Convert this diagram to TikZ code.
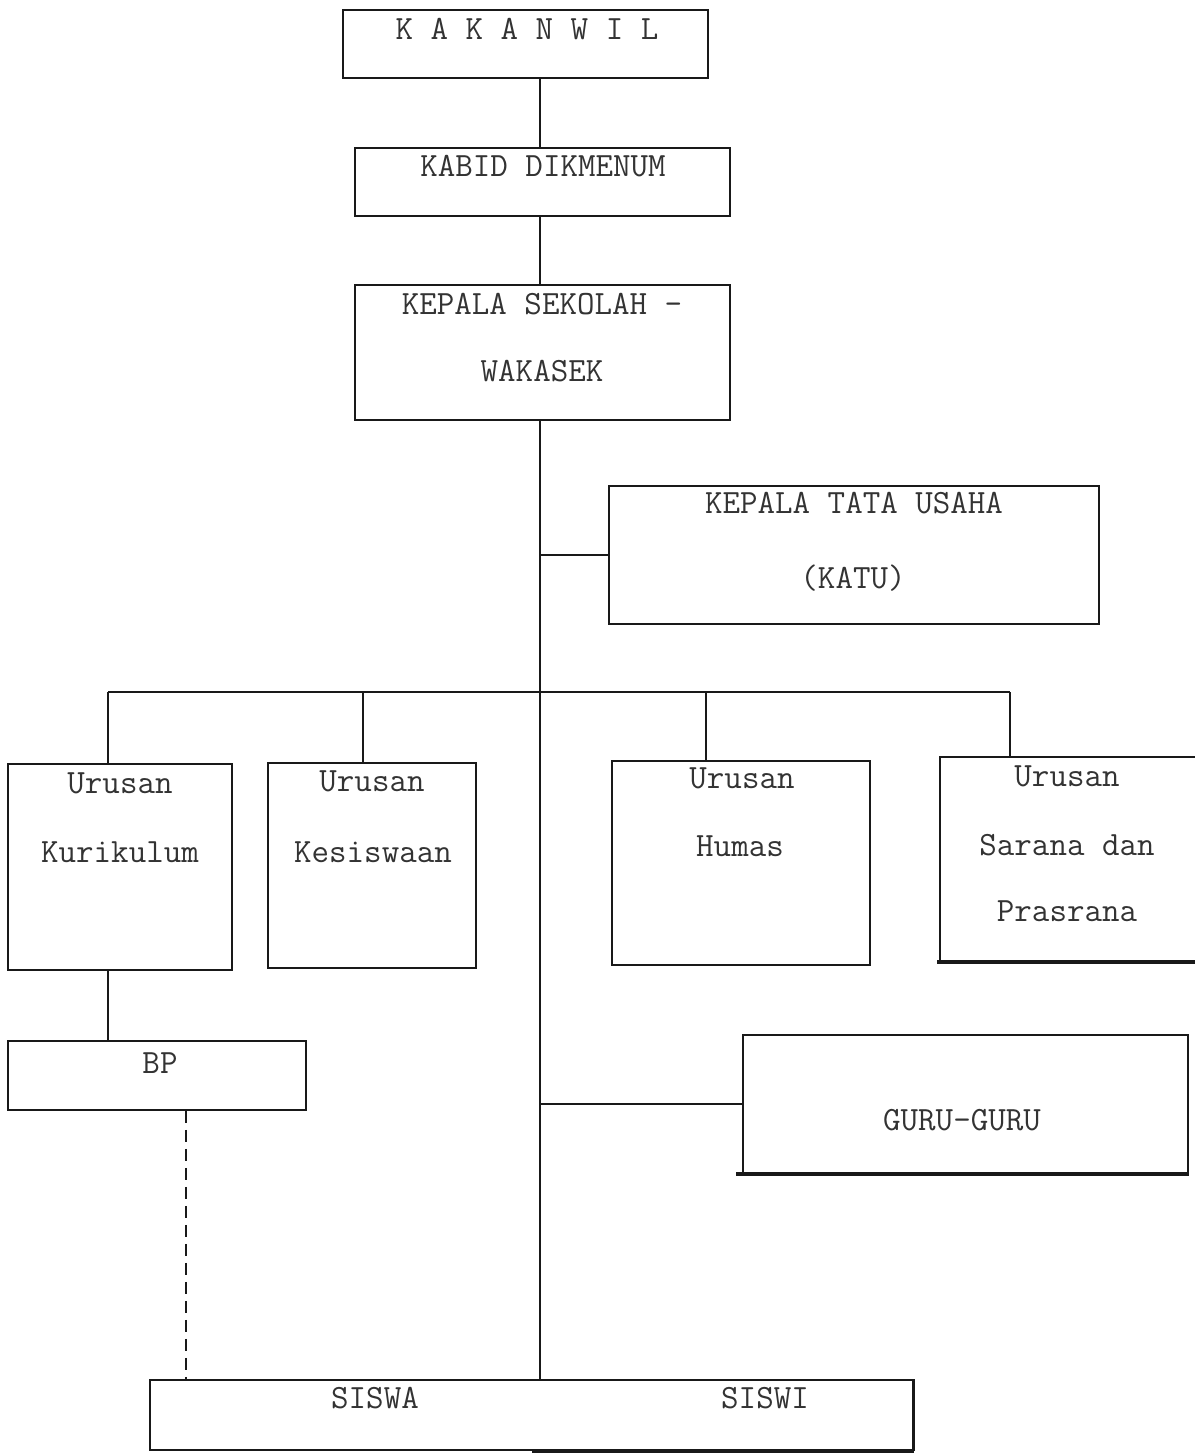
\documentclass[tikz,border=0pt]{standalone}
\usepackage{fontspec}
\begin{document}
\begin{tikzpicture}[x=1pt,y=-1pt,
  box/.style={draw=black!90,rectangle,inner sep=0pt,line width=1.5pt},
  lbl/.style={font=\ttfamily\fontsize{34}{40}\selectfont,text=black!80,inner sep=0pt},
  link/.style={draw=black!90,line width=1.5pt},
  dashlink/.style={draw=black!90,line width=1.5pt,dash pattern=on 12pt off 7pt},
  heavyedge/.style={draw=black!90,line width=4pt}]
\useasboundingbox (0,0) rectangle (1194,1453);

% boxes
\node[box,minimum width=365pt,minimum height=68pt] (kakanwil) at (525.5,44) {};
\node[box,minimum width=375pt,minimum height=68pt] (kabid) at (542.5,182) {};
\node[box,minimum width=375pt,minimum height=135pt] (kepsek) at (542.5,352.5) {};
\node[box,minimum width=490pt,minimum height=138pt] (katu) at (854,555) {};
\node[box,minimum width=224pt,minimum height=206pt] (kurikulum) at (120,867) {};
\node[box,minimum width=208pt,minimum height=205pt] (kesiswaan) at (372,865.5) {};
\node[box,minimum width=258pt,minimum height=204pt] (humas) at (741,863) {};
\node[box,minimum width=256pt,minimum height=204pt] (sarana) at (1068,859) {};
\node[box,minimum width=298pt,minimum height=69pt] (bp) at (157,1075.5) {};
\node[box,minimum width=445pt,minimum height=138pt] (guru) at (965.5,1104) {};
\node[box,minimum width=763pt,minimum height=70pt] (siswa) at (531.5,1415) {};

% texts
\node[lbl] (kakanwil-t) at (527,29) {K A K A N W I L};
\node[lbl] (kabid-t) at (543,166) {KABID DIKMENUM};
\node[lbl] (kepsek-t1) at (542,304) {KEPALA SEKOLAH -};
\node[lbl] (kepsek-t2) at (542,371) {WAKASEK};
\node[lbl] (katu-t1) at (854,503) {KEPALA TATA USAHA};
\node[lbl] (katu-t2) at (853,578) {(KATU)};
\node[lbl] (kurikulum-t1) at (120,783) {Urusan};
\node[lbl] (kurikulum-t2) at (120,852) {Kurikulum};
\node[lbl] (kesiswaan-t1) at (372,781) {Urusan};
\node[lbl] (kesiswaan-t2) at (373,852) {Kesiswaan};
\node[lbl] (humas-t1) at (742,778) {Urusan};
\node[lbl] (humas-t2) at (740,846) {Humas};
\node[lbl] (sarana-t1) at (1067,776) {Urusan};
\node[lbl] (sarana-t2) at (1067,845) {Sarana dan};
\node[lbl] (sarana-t3) at (1067,911) {Prasrana};
\node[lbl] (bp-t) at (160,1063) {BP};
\node[lbl] (guru-t) at (962,1120) {GURU-GURU};
\node[lbl] (siswa-t1) at (375,1398) {SISWA};
\node[lbl] (siswa-t2) at (765,1398) {SISWI};

% heavy lower edges
\draw[heavyedge] ([xshift=-2pt]sarana.south west) -- (sarana.south east);
\draw[heavyedge] ([xshift=-6pt]guru.south west) -- (guru.south east);
\draw[heavyedge] (siswa.south) -- (siswa.south east);
\draw[draw=black!90,line width=3pt] (siswa.south east) -- (siswa.north east);

% lines
\coordinate (spine) at (540,0);
\coordinate (d1) at (108,692);
\coordinate (d2) at (363,692);
\coordinate (d3) at (706,692);
\coordinate (d4) at (1010,692);
\coordinate (bpx) at (186,0);

\draw[link] (kakanwil.south -| spine) -- (kabid.north -| spine);
\draw[link] (kabid.south -| spine) -- (kepsek.north -| spine);
\draw[link] (kepsek.south -| spine) -- (siswa.north -| spine);
\draw[link] (katu.west -| spine) -- (katu.west);
\draw[link] (guru.west -| spine) -- (guru.west);
\draw[link] (d1) -- (d4);
\draw[link] (d1) -- (d1 |- kurikulum.north);
\draw[link] (d2) -- (d2 |- kesiswaan.north);
\draw[link] (d3) -- (d3 |- humas.north);
\draw[link] (d4) -- (d4 |- sarana.north);
\draw[link] (d1 |- kurikulum.south) -- (d1 |- bp.north);
\draw[dashlink] (bp.south -| bpx) -- (siswa.north -| bpx);
\end{tikzpicture}
\end{document}
